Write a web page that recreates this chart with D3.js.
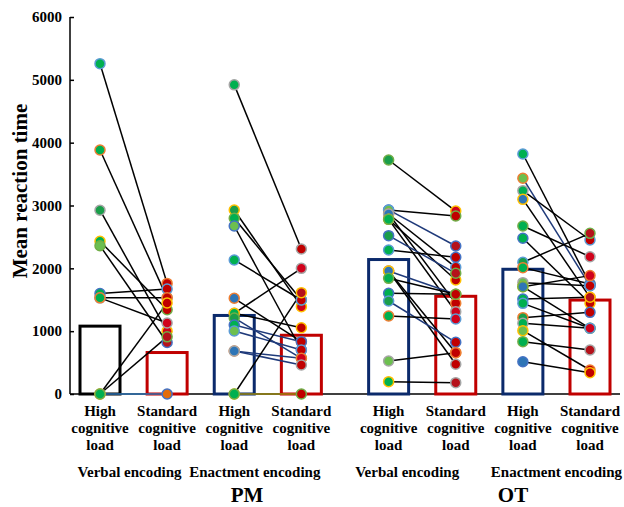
<!DOCTYPE html>
<html>
<head>
<meta charset="utf-8">
<script src="https://cdn.jsdelivr.net/npm/d3@7"></script>
<style>
  body { margin: 0; background: #fff; }
</style>
</head>
<body>
<div id="chart"></div>
<script>
// bar means, in column order
var barMeans = [1080, 660, 1250, 935, 2140, 1555, 1985, 1495];
var yTicks = [0, 1000, 2000, 3000, 4000, 5000, 6000];
var loadLabels = [['High', 'cognitive', 'load'], ['Standard', 'cognitive', 'load']];
var encodingLabels = ['Verbal encoding', 'Enactment encoding', 'Verbal encoding', 'Enactment encoding'];
var taskLabels = ['PM', 'OT'];

// participant values, high load -> standard load
var pmVerbalHigh = [5257, 3883, 2925, 2430, 2360, 1600, 1530, 1530, 0, 0, 0];
var pmVerbalStd  = [1760, 1530, 1000, 1340, 820, 1670, 1530, 1130, 1450, 910, 0];
var pmEnactHigh = [4920, 2928, 2796, 2674, 2133, 1523, 1284, 1284, 1210, 1098, 1003, 684, 684, 0, 0];
var pmEnactStd  = [2308, 1390, 1496, 700, 1496, 833, 2000, 1055, 568, 833, 700, 568, 462, 1613, 0];
var otVerbalHigh = [3724, 2929, 2929, 2865, 2865, 2780, 2780, 2520, 2292, 1958, 1958, 1958, 1841, 1602, 1480, 1241, 525, 196];
var otVerbalStd  = [2912, 2833, 2356, 2016, 1443, 1310, 1814, 1921, 2176, 1587, 658, 473, 1587, 1587, 823, 1194, 658, 180];
var otEnactHigh = [3820, 3433, 3236, 3098, 2674, 2478, 2096, 2011, 1772, 1708, 1708, 1512, 1443, 1215, 1125, 1008, 833, 514];
var otEnactStd  = [1751, 1724, 2451, 1539, 2185, 1443, 2557, 1751, 1724, 1884, 1046, 1539, 1046, 1300, 1046, 382, 700, 340];

// link colour code per pair: k black, b navy, c blue, o olive
var pmVerbalLink = ['k','k','k','k','k','k','k','k','k','k','c'];
var pmEnactLink = ['k','k','k','k','k','k','k','k','b','b','b','b','b','k','o'];
var otVerbalLink = ['k','k','b','k','k','k','k','b','k','b','k','k','k','k','b','k','k','k'];
var otEnactLink = ['k','b','k','k','k','k','k','k','k','k','k','k','k','k','k','k','k','k'];

var pairs = [
  [pmVerbalHigh, pmVerbalStd, pmVerbalLink],
  [pmEnactHigh, pmEnactStd, pmEnactLink],
  [otVerbalHigh, otVerbalStd, otVerbalLink],
  [otEnactHigh, otEnactStd, otEnactLink]
];

var W = 624, H = 507;
var FONT = '"Liberation Serif", "Times New Roman", Times, "DejaVu Serif", serif';
var linkColor = {k: '#000', b: '#1f3a7a', c: '#2e75b6', o: '#9c8a10'};
var barColor = ['#000', '#c00000', '#0b2a6b', '#c00000', '#0b2a6b', '#c00000', '#0b2a6b', '#c00000'];
var ringCols = ['#5b9bd5', '#ed7d31', '#a5a5a5', '#ffc000', '#70ad47', '#4472c4'];
var highFills = ['#00b050', '#00b050', '#1a9e4a', '#00b050', '#6cbf4f', '#00b050', '#2e75b6'];
var stdFills = ['#c00000', '#c00000', '#d0021b', '#c00000', '#b5121b'];
var encShift = [-4, -13, -15, 0];

var svg = d3.select('#chart').append('svg')
  .attr('width', W)
  .attr('height', H)
  .style('font-family', FONT)
  .style('font-weight', 'bold');

var y = d3.scaleLinear().domain([0, 6000]).range([394, 17]);
// 8 columns, extra gap between PM and OT
var x = d3.scaleLinear().domain([0, 7.3]).range([100, 590]);
function colX(i) { return x(i + (i >= 4 ? 0.3 : 0)); }
var barW = 40;

// axes
var yAxis = d3.axisLeft(y).tickValues(yTicks).tickSize(-4).tickPadding(8).tickFormat(d3.format('d'));
var ga = svg.append('g').attr('transform', 'translate(70,0)').call(yAxis)
  .attr('font-family', null).attr('font-size', null);
ga.select('.domain').attr('d', 'M0,17V394').attr('stroke', '#000').attr('stroke-width', 1.5);
ga.selectAll('.tick line').attr('stroke', '#000').attr('stroke-width', 1.5);
ga.selectAll('.tick text').attr('fill', '#000')
  .style('font-family', FONT).style('font-weight', 'bold').style('font-size', '15px');

svg.append('line')
  .attr('x1', 70).attr('x2', 620)
  .attr('y1', y(0)).attr('y2', y(0))
  .attr('stroke', '#000').attr('stroke-width', 1.5);

// bars
svg.selectAll('rect.bar')
  .data(barMeans)
  .enter().append('rect')
  .attr('class', 'bar')
  .attr('x', function(d, i) { return colX(i) - barW / 2; })
  .attr('y', function(d) { return y(d); })
  .attr('width', barW)
  .attr('height', function(d) { return y(0) - y(d); })
  .attr('fill', 'none')
  .attr('stroke', function(d, i) { return barColor[i]; })
  .attr('stroke-width', 3);

// links and points
pairs.forEach(function(p, c) {
  var xh = colX(c * 2), xs = colX(c * 2 + 1);
  var rows = p[0].map(function(v, i) { return {hi: v, st: p[1][i], link: p[2][i], i: i}; });
  var g = svg.append('g');
  g.selectAll('line')
    .data(rows)
    .enter().append('line')
    .attr('x1', xh).attr('x2', xs)
    .attr('y1', function(d) { return y(d.hi); })
    .attr('y2', function(d) { return y(d.st); })
    .attr('stroke', function(d) { return linkColor[d.link]; })
    .attr('stroke-width', 1.5);
  g.selectAll('circle.hi')
    .data(rows)
    .enter().append('circle')
    .attr('class', 'hi')
    .attr('cx', xh)
    .attr('cy', function(d) { return y(d.hi); })
    .attr('r', 5)
    .attr('fill', function(d) { return highFills[(d.i + c) % highFills.length]; })
    .attr('stroke', function(d) { return ringCols[(d.i + c * 2) % ringCols.length]; })
    .attr('stroke-width', 1.5);
  g.selectAll('circle.st')
    .data(rows)
    .enter().append('circle')
    .attr('class', 'st')
    .attr('cx', xs)
    .attr('cy', function(d) { return y(d.st); })
    .attr('r', 5)
    .attr('fill', function(d) { return (c == 0 && d.st == 0) ? '#e36c0a' : stdFills[(d.i + c) % stdFills.length]; })
    .attr('stroke', function(d) { return ringCols[(d.i + c + 1) % ringCols.length]; })
    .attr('stroke-width', 1.5);
});

// category labels
d3.range(8).forEach(function(i) {
  var t = svg.append('text')
    .attr('x', colX(i))
    .attr('y', 416)
    .attr('text-anchor', 'middle')
    .style('font-size', '15px')
    .attr('fill', '#000');
  loadLabels[i % 2].forEach(function(s, k) {
    t.append('tspan').attr('x', colX(i)).attr('dy', k == 0 ? 0 : 17).text(s);
  });
});

svg.selectAll('text.enc')
  .data(encodingLabels)
  .enter().append('text')
  .attr('class', 'enc')
  .attr('x', function(d, i) { return (colX(i * 2) + colX(i * 2 + 1)) / 2 + encShift[i]; })
  .attr('y', 477)
  .attr('text-anchor', 'middle')
  .style('font-size', '15px')
  .text(function(d) { return d; });

svg.selectAll('text.task')
  .data(taskLabels)
  .enter().append('text')
  .attr('class', 'task')
  .attr('x', function(d, i) { return i == 0 ? 247 : 513; })
  .attr('y', 502)
  .attr('text-anchor', 'middle')
  .style('font-size', '21px')
  .text(function(d) { return d; });

svg.append('text')
  .attr('transform', 'translate(27,191) rotate(-90)')
  .attr('text-anchor', 'middle')
  .style('font-size', '21px')
  .text('Mean reaction time');
</script>
</body>
</html>
